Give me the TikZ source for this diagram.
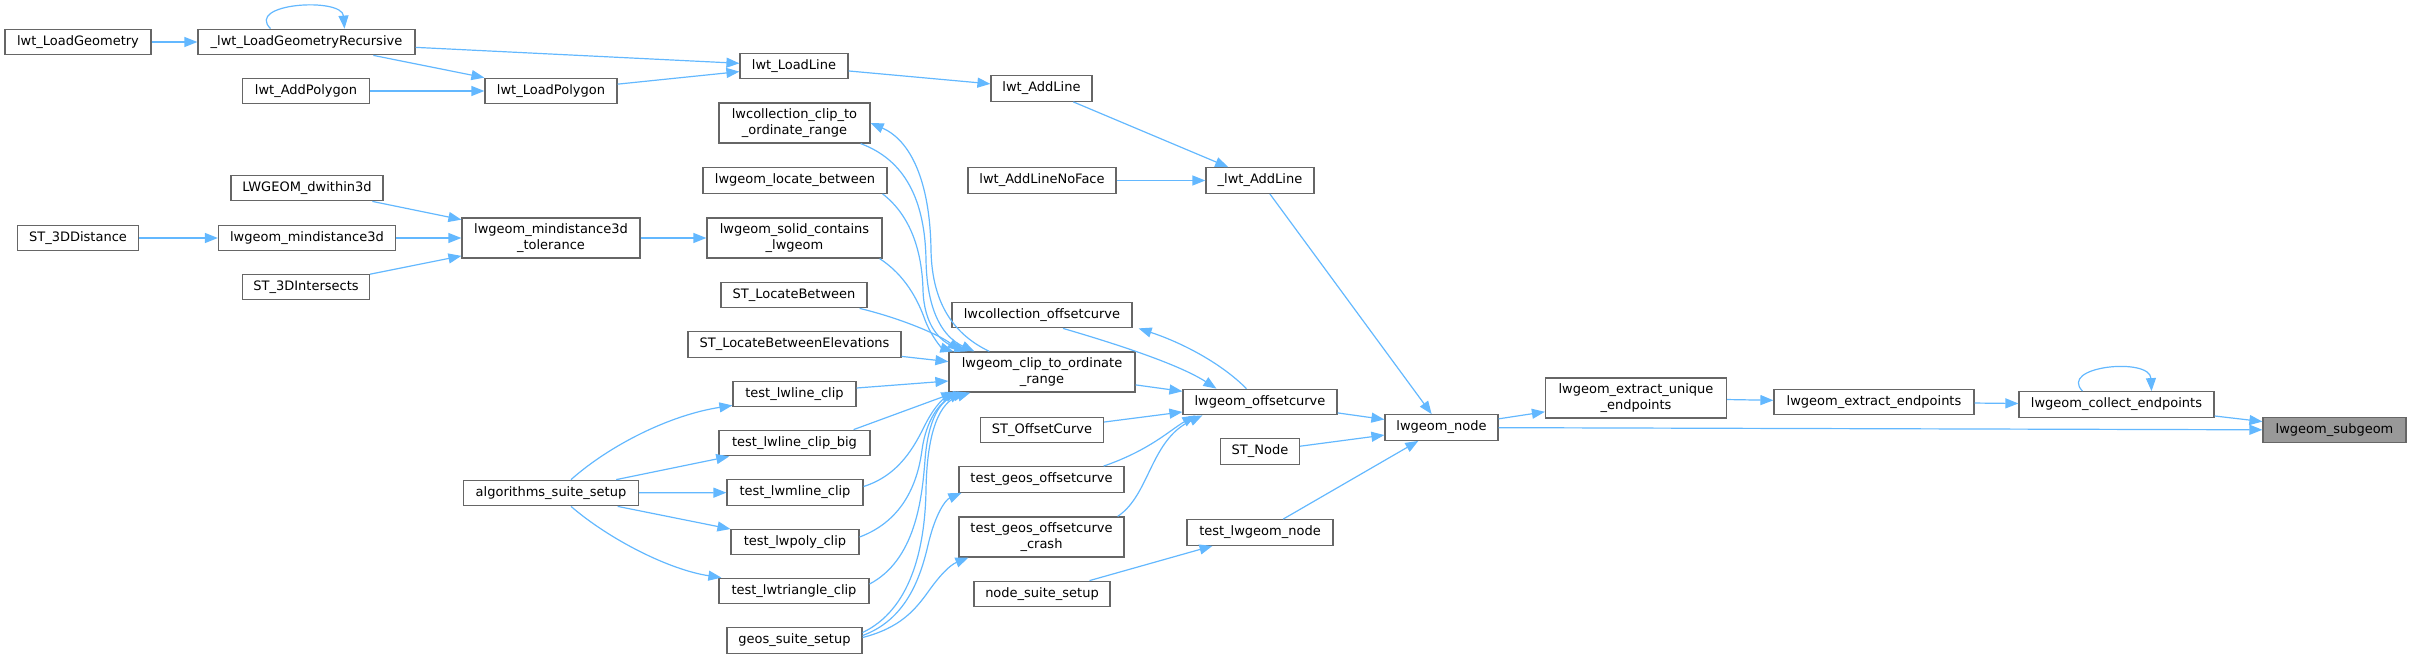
\documentclass[tikz,border=0pt]{standalone}
\usepackage{fontspec}
\setmainfont{DejaVu Sans}
\usetikzlibrary{arrows.meta,calc}
\definecolor{edgec}{HTML}{63B8FF}
\definecolor{bordc}{HTML}{666666}
\definecolor{hil}{HTML}{999999}
\tikzset{
 box/.style={draw=bordc, line width=0.6pt, fill=white, inner sep=0pt, minimum height=12.8pt, font=\fontsize{6.5}{7.6}\selectfont, align=center},
 tall/.style={minimum height=20pt},
 bw/.style={minimum width=#1*0.5pt},
 e/.style={draw=edgec, line width=0.6pt, -{Triangle[length=6.5pt,width=5pt]}},
}
\begin{document}
\begin{tikzpicture}[x=0.5pt,y=-0.5pt]
\useasboundingbox (0,0) rectangle (2409,659);
% column 0
\node[box,bw=146] (loadgeom) at (78,42) {lwt\_LoadGeometry};
\node[box,bw=121] (st3dd) at (78,238) {ST\_3DDistance};
% column 1
\node[box,bw=217] (rec) at (306.5,42) {\_lwt\_LoadGeometryRecursive};
\node[box,bw=127] (addpoly) at (306,91) {lwt\_AddPolygon};
\node[box,bw=152] (dwithin) at (307,188) {LWGEOM\_dwithin3d};
\node[box,bw=177] (mind3d) at (307,238) {lwgeom\_mindistance3d};
\node[box,bw=127] (st3di) at (306,287) {ST\_3DIntersects};
% column 2
\node[box,bw=132] (loadpoly) at (551,91) {lwt\_LoadPolygon};
\node[box,bw=178,tall] (mindtol) at (551,238) {lwgeom\_mindistance3d\\\_tolerance};
\node[box,bw=175] (asetup) at (551,493) {algorithms\_suite\_setup};
% column 3
\node[box,bw=108] (loadline) at (794,66) {lwt\_LoadLine};
\node[box,bw=151,tall] (lwcclip) at (794.5,123) {lwcollection\_clip\_to\\\_ordinate\_range};
\node[box,bw=184] (locbetween) at (795,180.5) {lwgeom\_locate\_between};
\node[box,bw=175,tall] (solid) at (794.5,238) {lwgeom\_solid\_contains\\\_lwgeom};
\node[box,bw=146] (stlb) at (794,295) {ST\_LocateBetween};
\node[box,bw=213] (stlbe) at (794.5,344.5) {ST\_LocateBetweenElevations};
\node[box,bw=123] (tlc) at (794.5,394) {test\_lwline\_clip};
\node[box,bw=151] (tlcb) at (794.5,443) {test\_lwline\_clip\_big};
\node[box,bw=136] (tmlc) at (795,492.5) {test\_lwmline\_clip};
\node[box,bw=128] (tpc) at (795,542) {test\_lwpoly\_clip};
\node[box,bw=150] (ttc) at (794,591) {test\_lwtriangle\_clip};
\node[box,bw=135] (geos) at (794.5,640.5) {geos\_suite\_setup};
% column 4
\node[box,bw=101] (addline) at (1041.5,88.5) {lwt\_AddLine};
\node[box,bw=148] (addlinenf) at (1042,180.5) {lwt\_AddLineNoFace};
\node[box,bw=180] (lwcoff) at (1042,315) {lwcollection\_offsetcurve};
\node[box,bw=186,tall] (clip) at (1042,372) {lwgeom\_clip\_to\_ordinate\\\_range};
\node[box,bw=123] (stoff) at (1042,430) {ST\_OffsetCurve};
\node[box,bw=165] (tgo) at (1041.5,479.5) {test\_geos\_offsetcurve};
\node[box,bw=165,tall] (tgoc) at (1041.5,537) {test\_geos\_offsetcurve\\\_crash};
\node[box,bw=136] (nss) at (1042,594) {node\_suite\_setup};
% column 5
\node[box,bw=108] (addl) at (1260,180.5) {\_lwt\_AddLine};
\node[box,bw=154] (off) at (1260,402) {lwgeom\_offsetcurve};
\node[box,bw=79] (stnode) at (1260,451.5) {ST\_Node};
\node[box,bw=146] (tln) at (1260,532.5) {test\_lwgeom\_node};
% column 6+
\node[box,bw=113] (node) at (1441.5,427.5) {lwgeom\_node};
\node[box,bw=181,tall] (unique) at (1636,398) {lwgeom\_extract\_unique\\\_endpoints};
\node[box,bw=200] (extract) at (1874,402) {lwgeom\_extract\_endpoints};
\node[box,bw=195] (collect) at (2116.5,404.5) {lwgeom\_collect\_endpoints};
\node[box,bw=143,fill=hil] (subgeom) at (2334.5,430) {lwgeom\_subgeom};

% ---- edges ----
\draw[e] (loadgeom) -- (rec);
\draw[e] ($(rec.north)+(-36,0)$) .. controls (245,3) and (342,-3) .. ($(rec.north)+(38,0)$);
\draw[e] (rec) -- (loadline);
\draw[e] (rec) -- (loadpoly);
\draw[e] (addpoly) -- (loadpoly);
\draw[e] (loadpoly) -- (loadline);
\draw[e] (loadline) -- (addline);
\draw[e] (addline) -- (addl);
\draw[e] (addlinenf) -- (addl);
\draw[e] (addl) -- (node);
\draw[e] (dwithin) -- (mindtol);
\draw[e] (st3dd) -- (mind3d);
\draw[e] (mind3d) -- (mindtol);
\draw[e] (st3di) -- (mindtol);
\draw[e] (mindtol) -- (solid);
% into clip from above
\draw[e] ($(lwcclip.south east)+(-10,0)$) .. controls (905,160) and (925,200) .. (926,260) .. controls (927,315) and (945,338) .. ($(clip.north west)+(26,0)$);
\draw[e] ($(clip.north west)+(41,0)$) .. controls (955,335) and (932,305) .. (931,250) .. controls (930,180) and (910,140) .. (lwcclip.east);
\draw[e] ($(locbetween.south east)+(-5,0)$) .. controls (910,215) and (922,250) .. (923,290) .. controls (924,325) and (940,342) .. ($(clip.north west)+(19,0)$);
\draw[e] ($(solid.south east)+(-3,0)$) .. controls (905,275) and (918,300) .. (925,320) .. controls (932,338) and (942,348) .. ($(clip.north west)+(5,0)$);
\draw[e] ($(stlb.south east)+(-8,0)$) .. controls (900,318) and (940,335) .. ($(clip.north west)+(12,0)$);
\draw[e] (stlbe) -- (clip);
\draw[e] ($(tlc.east)+(0,-6)$) -- ($(clip.west)+(0,9)$);
\draw[e] ($(tlcb.north east)+(-17,0)$) -- ($(clip.south west)+(6,0)$);
\draw[e] ($(tmlc.east)+(0,-6)$) .. controls (900,475) and (915,445) .. (925,425) .. controls (935,405) and (945,397) .. ($(clip.south west)+(10,0)$);
\draw[e] ($(tpc.east)+(0,-5)$) .. controls (905,520) and (918,480) .. (922,450) .. controls (926,420) and (940,402) .. ($(clip.south west)+(14,0)$);
\draw[e] ($(ttc.east)+(0,-7)$) .. controls (915,560) and (922,500) .. (925,460) .. controls (928,420) and (940,400) .. ($(clip.south west)+(18,0)$);
\draw[e] ($(geos.east)+(0,-8)$) .. controls (910,610) and (925,550) .. (926,490) .. controls (927,430) and (940,402) .. ($(clip.south west)+(22,0)$);
\draw[e] ($(geos.east)+(0,-5)$) .. controls (905,620) and (920,580) .. (928,545) .. controls (935,515) and (945,500) .. ($(tgo.south west)+(3,0)$);
\draw[e] ($(geos.east)+(0,-3)$) .. controls (900,628) and (915,610) .. (928,592) .. controls (940,575) and (950,565) .. ($(tgoc.south west)+(10,0)$);
% algorithms suite
\draw[e] ($(asetup.north)+(20,0)$) .. controls (610,445) and (670,415) .. ($(tlc.south west)+(0,-2)$);
\draw[e] (asetup) -- (tlcb);
\draw[e] (asetup) -- (tmlc);
\draw[e] (asetup) -- (tpc);
\draw[e] ($(asetup.south)+(20,0)$) .. controls (610,540) and (670,570) .. ($(ttc.north west)+(3,0)$);
% offsetcurve cluster
\draw[e] ($(lwcoff.south)+(21,0)$) .. controls (1120,345) and (1180,365) .. ($(off.north west)+(34,0)$);
\draw[e] ($(off.north west)+(64,0)$) .. controls (1220,362) and (1180,342) .. ($(lwcoff.south east)+(6,0)$);
\draw[e] (clip) -- (off);
\draw[e] (stoff) -- (off);
\draw[e] ($(tgo.north east)+(-21,0)$) .. controls (1150,450) and (1170,430) .. ($(off.south west)+(13,0)$);
\draw[e] ($(tgoc.north east)+(-7,0)$) .. controls (1150,495) and (1150,440) .. ($(off.south west)+(20,0)$);
\draw[e] (off) -- (node);
\draw[e] (stnode) -- (node);
\draw[e] (tln) -- (node);
\draw[e] (nss) -- (tln);
% right part
\draw[e] (node) -- (unique);
\draw[e] (node) -- (subgeom);
\draw[e] (unique) -- (extract);
\draw[e] (extract) -- (collect);
\draw[e] ($(collect.north)+(-34,0)$) .. controls (2058,366) and (2150,357) .. ($(collect.north)+(35,0)$);
\draw[e] (collect) -- (subgeom);
\end{tikzpicture}
\end{document}
